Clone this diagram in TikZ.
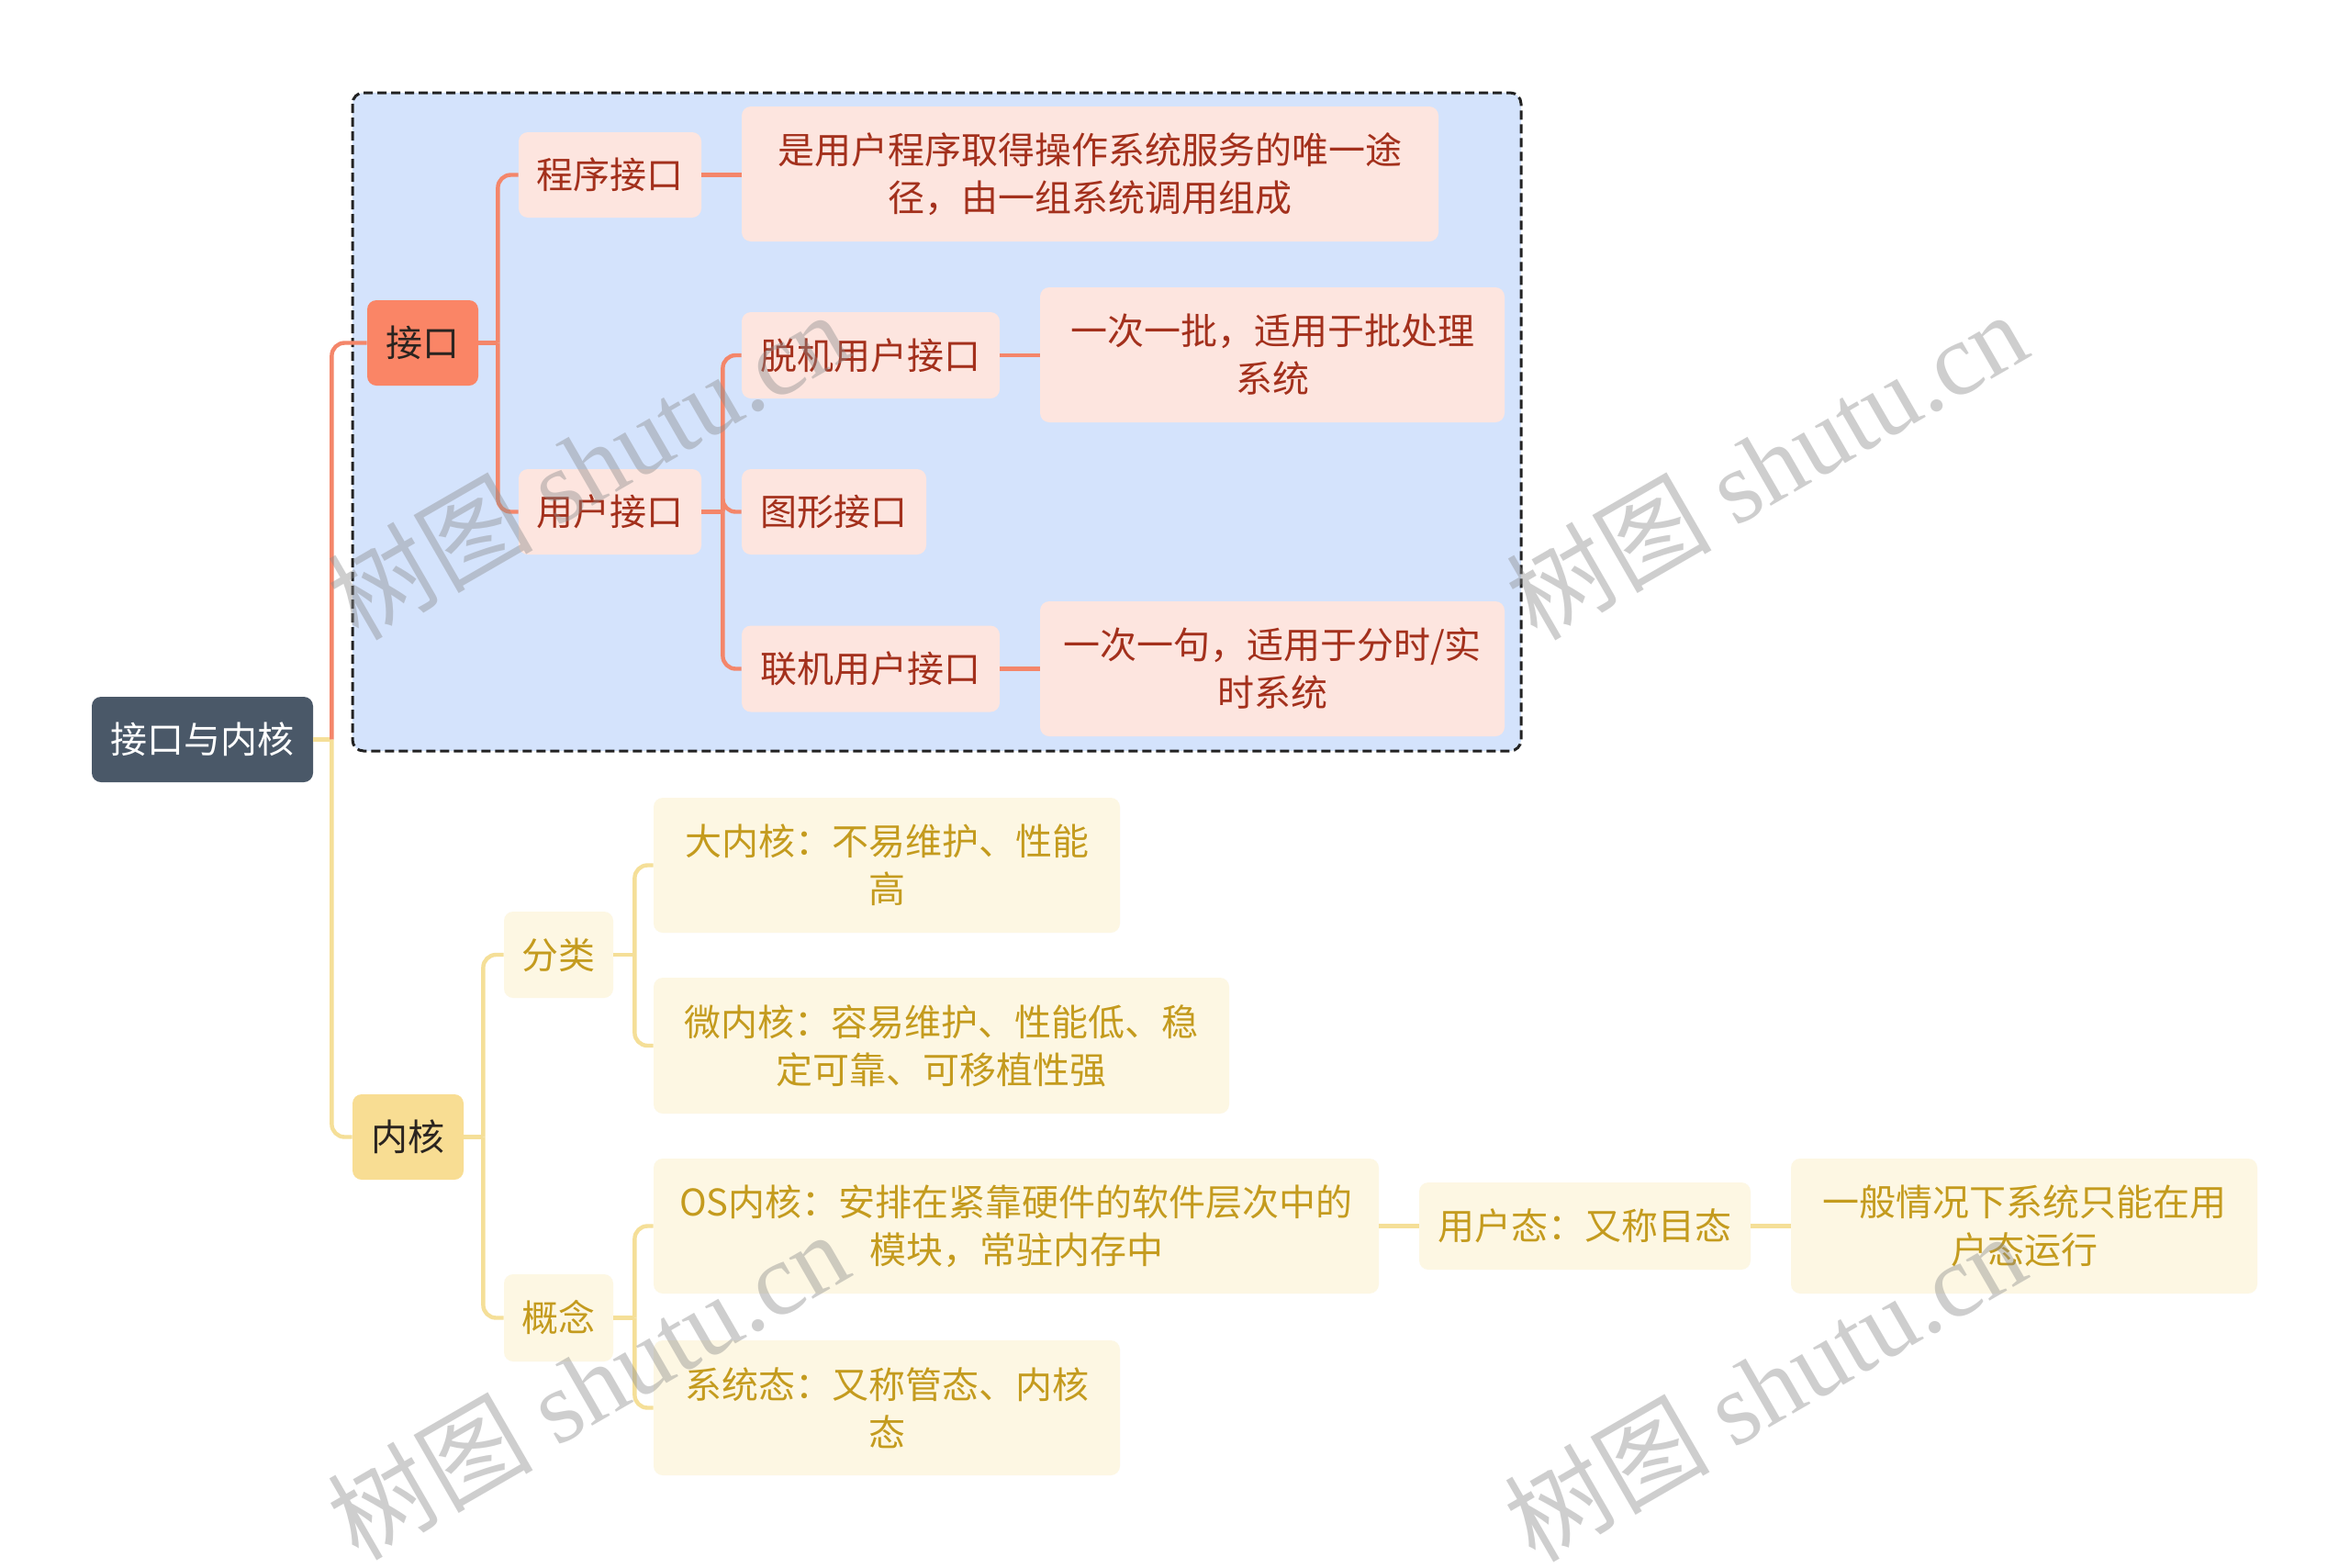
\documentclass[tikz,border=0pt]{standalone}
\usepackage{fontspec}
\setmainfont{Noto Sans CJK SC}
\newfontfamily\wmserif{Liberation Serif}
\newfontfamily\wmcjk{Noto Sans CJK SC}
\definecolor{rootfill}{HTML}{4A5868}
\definecolor{jkfill}{HTML}{FA8566}
\definecolor{ofill}{HTML}{FDE5DF}
\definecolor{otext}{HTML}{A3301C}
\definecolor{oline}{HTML}{F4866A}
\definecolor{nhfill}{HTML}{F8DD93}
\definecolor{yfill}{HTML}{FDF7E3}
\definecolor{ytext}{HTML}{C49B1E}
\definecolor{yline}{HTML}{F5DF98}
\definecolor{framefill}{HTML}{D4E3FC}
\definecolor{framedraw}{HTML}{222222}
\definecolor{darktext}{HTML}{2A2420}
\tikzset{
  box/.style={rounded corners=5pt, inner sep=0pt, align=center,
    font=\fontsize{20pt}{26pt}\selectfont},
  rootbox/.style={box, fill=rootfill, text=white},
  jkbox/.style={box, fill=jkfill, text=darktext},
  obox/.style={box, fill=ofill, text=otext},
  nhbox/.style={box, fill=nhfill, text=darktext},
  ybox/.style={box, fill=yfill, text=ytext},
  oconn/.style={draw=oline, line width=2.2pt, rounded corners=7pt},
  yconn/.style={draw=yline, line width=2.2pt, rounded corners=7pt},
  wm/.style={rotate=30, text=black!45, opacity=0.42, inner sep=0pt}
}
\begin{document}
\begin{tikzpicture}[x=1pt,y=-1pt]
\useasboundingbox (0,0) rectangle (1280,854);
\fill[white] (0,0) rectangle (1280,854);

% frame
\draw[framedraw, fill=framefill, line width=1.5pt, dash pattern=on 5pt off 2.5pt, rounded corners=6pt]
  (192,50.5) rectangle (828.5,409);

% nodes
\node[rootbox, minimum width=120.5pt, minimum height=46.5pt] (root) at (110.25,402.75) {接口与内核};
\node[jkbox, minimum width=60.5pt, minimum height=46.5pt] (jk) at (230.25,186.75) {接口};
\node[obox, minimum width=99.5pt, minimum height=46.5pt] (cxjk) at (332.25,95.25) {程序接口};
\node[obox, minimum width=379.5pt, minimum height=73.5pt] (d1) at (593.75,94.75) {是用户程序取得操作系统服务的唯一途\\径，由一组系统调用组成};
\node[obox, minimum width=99.5pt, minimum height=46.5pt] (yhjk) at (332.25,278.75) {用户接口};
\node[obox, minimum width=140.5pt, minimum height=47pt] (tj) at (474.25,193.5) {脱机用户接口};
\node[obox, minimum width=253pt, minimum height=73.5pt] (d2) at (693,193.25) {一次一批，适用于批处理\\系统};
\node[obox, minimum width=100.5pt, minimum height=46.5pt] (tx) at (454.25,278.75) {图形接口};
\node[obox, minimum width=140.5pt, minimum height=47pt] (lj) at (474.25,364.25) {联机用户接口};
\node[obox, minimum width=253pt, minimum height=73.5pt] (d3) at (693,364.25) {一次一句，适用于分时/实\\时系统};

\node[nhbox, minimum width=60.5pt, minimum height=46.5pt] (nh) at (222.25,619.25) {内核};
\node[ybox, minimum width=59.5pt, minimum height=47pt] (fl) at (304.25,520) {分类};
\node[ybox, minimum width=254pt, minimum height=73.5pt] (dnh) at (483,471.25) {大内核：不易维护、性能\\高};
\node[ybox, minimum width=313.5pt, minimum height=74pt] (wnh) at (512.75,569.5) {微内核：容易维护、性能低、稳\\定可靠、可移植性强};
\node[ybox, minimum width=59.5pt, minimum height=47.5pt] (gn) at (304.25,717.75) {概念};
\node[ybox, minimum width=395pt, minimum height=73.5pt] (os) at (553.5,667.75) {OS内核：安排在紧靠硬件的软件层次中的\\模块，常驻内存中};
\node[ybox, minimum width=254pt, minimum height=73.5pt] (xtt) at (483,766.75) {系统态：又称管态、内核\\态};
\node[ybox, minimum width=180.5pt, minimum height=47.5pt] (yht) at (863.25,667.75) {用户态：又称目态};
\node[ybox, minimum width=254pt, minimum height=73.5pt] (yb) at (1102.5,667.75) {一般情况下系统只能在用\\户态运行};

% fork points
\coordinate (rf) at ([xshift=10pt]root.east);
\coordinate (jkf) at ([xshift=10.5pt]jk.east);
\coordinate (yhf) at ([xshift=11.5pt]yhjk.east);
\coordinate (nhf) at ([xshift=10.5pt]nh.east);
\coordinate (flf) at ([xshift=11.5pt]fl.east);
\coordinate (gnf) at ([xshift=11.5pt]gn.east);

% connectors
\draw[yconn] (root.east) -- (rf);
\draw[oconn] (rf) |- (jk.west);
\draw[yconn] (rf) |- (nh.west);

\draw[oconn] (jk.east) -- (jkf);
\draw[oconn] (jkf) |- (cxjk.west);
\draw[oconn] (jkf) |- (yhjk.west);
\draw[oconn] (cxjk.east) -- (d1.west |- cxjk.east);
\draw[oconn] (yhjk.east) -- (yhf);
\draw[oconn] (yhf) |- (tj.west);
\draw[oconn] (yhf) |- (tx.west);
\draw[oconn] (yhf) |- (lj.west);
\draw[oconn] (tj.east) -- (d2.west |- tj.east);
\draw[oconn] (lj.east) -- (d3.west |- lj.east);

\draw[yconn] (nh.east) -- (nhf);
\draw[yconn] (nhf) |- (fl.west);
\draw[yconn] (nhf) |- (gn.west);
\draw[yconn] (fl.east) -- (flf);
\draw[yconn] (flf) |- (dnh.west);
\draw[yconn] (flf) |- (wnh.west);
\draw[yconn] (gn.east) -- (gnf);
\draw[yconn] (gnf) |- (os.west);
\draw[yconn] (gnf) |- (xtt.west);
\draw[yconn] (os.east) -- (yht.west);
\draw[yconn] (yht.east) -- (yb.west);

% watermarks
\node[wm] (w1) at (320,253) {\fontsize{56pt}{56pt}\wmcjk 树图 \wmserif shutu.cn};
\node[wm] (w2) at (962,253) {\fontsize{56pt}{56pt}\wmcjk 树图 \wmserif shutu.cn};
\node[wm] (w3) at (320,754) {\fontsize{56pt}{56pt}\wmcjk 树图 \wmserif shutu.cn};
\node[wm] (w4) at (961,755) {\fontsize{56pt}{56pt}\wmcjk 树图 \wmserif shutu.cn};
\end{tikzpicture}
\end{document}
